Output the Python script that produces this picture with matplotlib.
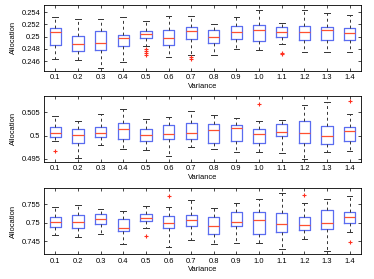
import matplotlib
matplotlib.use("Agg")
import matplotlib.pyplot as plt

plt.rcParams['font.family'] = ['Liberation Sans', 'DejaVu Sans']

variances = ["0.1", "0.2", "0.3", "0.4", "0.5", "0.6", "0.7", "0.8", "0.9", "1.0", "1.1", "1.2", "1.3", "1.4"]

# each: (whislo, q1, med, q3, whishi)
top_stats = [
    (0.24638, 0.24863, 0.25071, 0.25148, 0.25318),
    (0.24616, 0.24764, 0.24874, 0.25011, 0.25296),
    (0.24490, 0.24786, 0.24901, 0.25099, 0.25290),
    (0.24589, 0.24841, 0.24973, 0.25033, 0.25318),
    (0.24852, 0.24978, 0.25038, 0.25099, 0.25263),
    (0.24660, 0.24858, 0.24973, 0.25115, 0.25345),
    (0.24693, 0.24967, 0.25099, 0.25153, 0.25334),
    (0.24699, 0.24896, 0.24995, 0.25104, 0.25203),
    (0.24792, 0.24956, 0.25082, 0.25170, 0.25318),
    (0.24781, 0.24934, 0.25104, 0.25186, 0.25444),
    (0.24885, 0.24995, 0.25071, 0.25164, 0.25230),
    (0.24742, 0.24951, 0.25071, 0.25170, 0.25438),
    (0.24742, 0.24940, 0.25104, 0.25164, 0.25384),
    (0.24742, 0.24945, 0.25055, 0.25148, 0.25351),
]
top_fliers = [[], [], [], [], [0.24797, 0.24770, 0.24737, 0.24693], [], [0.24660, 0.24638], [], [], [], [0.24737, 0.24710], [], [], []]

mid_stats = [
    (0.49879, 0.49979, 0.50050, 0.50193, 0.50414),
    (0.49514, 0.49836, 0.50014, 0.50143, 0.50321),
    (0.49793, 0.49964, 0.50050, 0.50193, 0.50471),
    (0.49721, 0.49921, 0.50136, 0.50264, 0.50564),
    (0.49686, 0.49893, 0.50007, 0.50136, 0.50350),
    (0.49571, 0.49921, 0.50029, 0.50221, 0.50393),
    (0.49757, 0.49936, 0.50064, 0.50279, 0.50529),
    (0.49707, 0.49850, 0.50129, 0.50257, 0.50450),
    (0.49657, 0.49886, 0.50157, 0.50236, 0.50371),
    (0.49657, 0.49836, 0.50043, 0.50143, 0.50321),
    (0.49636, 0.49986, 0.50071, 0.50257, 0.50343),
    (0.49493, 0.49850, 0.50064, 0.50321, 0.50657),
    (0.49650, 0.49829, 0.50000, 0.50214, 0.50729),
    (0.49679, 0.49893, 0.50093, 0.50193, 0.50457),
]
mid_fliers = [[0.49664], [], [], [], [], [], [], [], [], [0.50686], [], [], [], [0.50736]]

bot_stats = [
    (0.74679, 0.74884, 0.75009, 0.75143, 0.75411),
    (0.74625, 0.74848, 0.75009, 0.75196, 0.75482),
    (0.74688, 0.74964, 0.75089, 0.75232, 0.75357),
    (0.74429, 0.74777, 0.74848, 0.75089, 0.75321),
    (0.74866, 0.75045, 0.75125, 0.75232, 0.75446),
    (0.74339, 0.74848, 0.75000, 0.75179, 0.75411),
    (0.74527, 0.74911, 0.75063, 0.75205, 0.75607),
    (0.74429, 0.74688, 0.74911, 0.75143, 0.75393),
    (0.74446, 0.74911, 0.75018, 0.75286, 0.75518),
    (0.74455, 0.74688, 0.75063, 0.75277, 0.75625),
    (0.74295, 0.74741, 0.74955, 0.75250, 0.75804),
    (0.74554, 0.74804, 0.74929, 0.75161, 0.75527),
    (0.74241, 0.74821, 0.74982, 0.75339, 0.75625),
    (0.74750, 0.74982, 0.75152, 0.75277, 0.75723),
]
bot_fliers = [[], [], [], [], [0.74643], [0.75705], [], [], [], [], [], [0.75750], [], [0.74482]]

panels = [
    (top_stats, top_fliers, (0.24436, 0.2552), [0.246, 0.248, 0.250, 0.252, 0.254],
     ["0.246", "0.248", "0.25", "0.252", "0.254"], [0.7455, 0.2366]),
    (mid_stats, mid_fliers, (0.4944, 0.5085), [0.495, 0.500, 0.505],
     ["0.495", "0.5", "0.505"], [0.4204, 0.2355]),
    (bot_stats, bot_fliers, (0.7415, 0.7594), [0.745, 0.750, 0.755],
     ["0.745", "0.75", "0.755"], [0.0885, 0.2387]),
]

fig = plt.figure(figsize=(3.74, 2.79), dpi=100)
fs = 5.4
blue = "#5a6cf0"
for stats, fliers, ylim, yt, ytl, (b, h) in panels:
    ax = fig.add_axes([0.1176, b, 0.8476, h])
    bs = []
    for (lo, q1, med, q3, hi), fl in zip(stats, fliers):
        bs.append(dict(whislo=lo, q1=q1, med=med, q3=q3, whishi=hi, fliers=fl))
    ax.bxp(bs, positions=range(1, 15), widths=0.5, capwidths=0.25,
           boxprops=dict(color=blue, linewidth=0.9),
           medianprops=dict(color="#ff5030", linewidth=0.9),
           whiskerprops=dict(color="#333333", linewidth=0.7, linestyle=(0, (3, 3))),
           capprops=dict(color="#333333", linewidth=0.7),
           flierprops=dict(marker="+", markeredgecolor="#ff3020", markersize=3.5, markeredgewidth=0.8))
    ax.set_xlim(0.5, 14.5)
    ax.set_ylim(*ylim)
    ax.set_xticks(range(1, 15))
    ax.set_xticklabels(variances, fontsize=fs)
    ax.set_yticks(yt)
    ax.set_yticklabels(ytl, fontsize=fs)
    ax.tick_params(direction="in", length=2.5, width=0.5, top=True, right=True, pad=2.5)
    for s in ax.spines.values():
        s.set_linewidth(0.6)
    ax.set_xlabel("Variance", fontsize=fs, labelpad=1)
    ax.set_ylabel("Allocation", fontsize=fs, labelpad=3)

fig.savefig("out.png", dpi=100)
